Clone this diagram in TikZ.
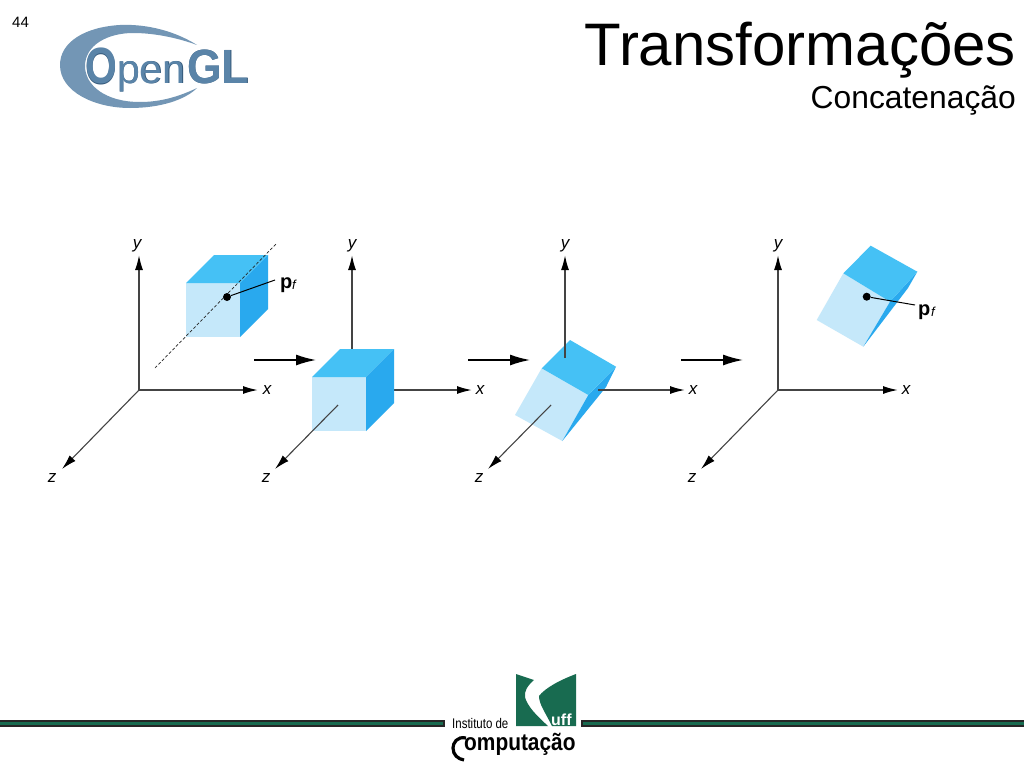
\documentclass[tikz,border=0pt]{standalone}
\usepackage{fontspec}
\setmainfont{Liberation Sans}
\definecolor{cfront}{HTML}{C5E8FA}
\definecolor{ctop}{HTML}{45C1F5}
\definecolor{cright}{HTML}{29A9EE}
\definecolor{uffgreen}{HTML}{186B50}
\definecolor{glblue}{HTML}{5A84A8}
\definecolor{gldark}{HTML}{34597A}
\definecolor{axisgray}{HTML}{444444}
\usetikzlibrary{arrows.meta}
\tikzset{
 axisline/.style={draw=axisgray,line width=1.6pt,-{Latex[length=15pt,width=8pt,black]}},
 zaxis/.style={draw=axisgray,line width=1.1pt,-{Latex[length=15pt,width=8pt,black]}},
 bigarrow/.style={draw=black,line width=1.5pt,-{Latex[length=20pt,width=11pt,black]}},
 axislabel/.style={font=\itshape\fontsize{17}{17}\selectfont,inner sep=0pt},
 pflabel/.style={font=\bfseries\fontsize{20}{20}\selectfont,inner sep=0pt},
 subf/.style={font=\itshape\fontsize{13}{13}\selectfont,inner sep=0pt},
 dotnode/.style={circle,fill=black,inner sep=0pt,minimum size=8pt},
 titletext/.style={inner sep=0pt,anchor=base east},
 glshadow/.style={inner sep=0pt,anchor=base west,text=gldark},
 gltext/.style={inner sep=0pt,anchor=base west,text=glblue},
}
\begin{document}
\begin{tikzpicture}[x=1pt,y=-1pt]
\useasboundingbox[fill=white] (0,0) rectangle (1024,768);
% header
\node[inner sep=0pt,anchor=base west,font=\fontsize{15}{15}\selectfont] (pagenum) at (12,28) {44};
\node[titletext,font=\fontsize{60}{60}\selectfont] (title) at (1016,65) {Transformações};
\node[titletext,font=\fontsize{31.8}{32}\selectfont] (subtitle) at (1016,108) {Concatenação};
% OpenGL logo
\fill[glblue!85!white] (197,45) .. controls (170,28) and (140,24) .. (120,25)
  .. controls (85,27) and (60,42) .. (60,65)
  .. controls (60,92) and (95,108) .. (130,108)
  .. controls (160,108) and (185,100) .. (197,88)
  .. controls (178,97) and (160,102) .. (140,102)
  .. controls (105,102) and (85,85) .. (85,66)
  .. controls (85,45) and (108,33) .. (133,33)
  .. controls (155,33) and (178,38) .. (197,45) -- cycle;
\node[glshadow,font=\bfseries\fontsize{51}{51}\selectfont] (oglshadow) at (85.6,84) {\scalebox{.8}[1]{O}};
\node[gltext,font=\bfseries\fontsize{51}{51}\selectfont] (oglo) at (85,83) {\scalebox{.8}[1]{O}};
\node[glshadow,font=\fontsize{41}{41}\selectfont] (oglpb) at (117.6,83.6) {pen};
\node[gltext,font=\fontsize{41}{41}\selectfont] (oglp) at (117,83) {pen};
\node[glshadow,font=\bfseries\fontsize{48}{48}\selectfont] (oglgb) at (187.6,83.6) {\scalebox{.93}[1]{GL}};
\node[gltext,font=\bfseries\fontsize{48}{48}\selectfont] (oglgl) at (187,83) {\scalebox{.93}[1]{GL}};
% Axes 1
\coordinate (o1) at (139,390);
\coordinate (y1) at (139,255);
\coordinate (x1) at (258,390);
\coordinate (z1) at (62,469);
\draw[axisline] (o1) -- (y1);
\draw[axisline] (o1) -- (x1);
\draw[zaxis] (o1) -- (z1);
\node[axislabel] (ly1) at (137,246) {y};
\node[axislabel] (lx1) at (267,390) {x};
\node[axislabel] (lz1) at (52,478) {z};
% Cube 1
\fill[cfront] (186,283) -- (240,283) -- (240,337) -- (186,337) -- cycle;
\fill[ctop] (186,283) -- (214,255) -- (268,255) -- (240,283) -- cycle;
\fill[cright] (240,283) -- (268,255) -- (268,309) -- (240,337) -- cycle;
\coordinate (d1a) at (155,368);
\coordinate (d1b) at (277,243);
\draw[line width=.7pt,dash pattern=on 3pt off 2pt,draw=black!85] (d1a) -- (d1b);
\node[dotnode] (p1) at (227,297) {};
\coordinate (l1) at (275,280);
\draw[line width=1pt] (p1) -- (l1);
\node[pflabel,anchor=base west] (pf1) at (280,288) {p};
\node[subf,anchor=base west] (sf1) at (292,289) {f};
% Axes 2
\coordinate (o2) at (352,390);
\coordinate (y2) at (352,255);
\coordinate (x2) at (472,390);
\coordinate (z2) at (275,469);
\draw[axisline] (o2) -- (y2);
\draw[axisline] (o2) -- (x2);
\node[axislabel] (ly2) at (352,246) {y};
\node[axislabel] (lx2) at (480,390) {x};
\node[axislabel] (lz2) at (266,478) {z};
% Cube 2
\fill[cfront] (312,377) -- (366,377) -- (366,431) -- (312,431) -- cycle;
\fill[ctop] (312,377) -- (340,349) -- (394,349) -- (366,377) -- cycle;
\fill[cright] (366,377) -- (394,349) -- (394,403) -- (366,431) -- cycle;
\coordinate (zs2) at (338,405);
\draw[zaxis] (zs2) -- (z2);
% Axes 3
\coordinate (o3) at (565,390);
\coordinate (y3) at (565,255);
\coordinate (x3) at (685,390);
\coordinate (z3) at (488,469);
\coordinate (ys3) at (565,358);
\coordinate (xs3) at (598,390);
\coordinate (zs3) at (551,405);
\node[axislabel] (ly3) at (565,246) {y};
\node[axislabel] (lx3) at (693,390) {x};
\node[axislabel] (lz3) at (479,478) {z};
% Cube 3
\fill[cfront] (541.7,368.3) -- (588.3,395) -- (562.3,441) -- (515,415) -- cycle;
\fill[cright] (588.3,395) -- (616,366.7) -- (606,387) -- (562.3,441) -- cycle;
\fill[ctop] (541.7,368.3) -- (570,340) -- (616,366.7) -- (588.3,395) -- cycle;
\draw[axisline] (ys3) -- (y3);
\draw[axisline] (xs3) -- (x3);
\draw[zaxis] (zs3) -- (z3);
% Axes 4
\coordinate (o4) at (778,390);
\coordinate (y4) at (778,255);
\coordinate (x4) at (898,390);
\coordinate (z4) at (701,469);
\draw[axisline] (o4) -- (y4);
\draw[axisline] (o4) -- (x4);
\draw[zaxis] (o4) -- (z4);
\node[axislabel] (ly4) at (778,246) {y};
\node[axislabel] (lx4) at (906,390) {x};
\node[axislabel] (lz4) at (692,478) {z};
% Cube 4
\fill[cfront] (843.3,273.3) -- (890,301.7) -- (863.3,346.7) -- (816.7,320) -- cycle;
\fill[cright] (890,301.7) -- (917.3,271.7) -- (908,288) -- (863.3,346.7) -- cycle;
\fill[ctop] (843.3,273.3) -- (870.7,245.7) -- (917.3,271.7) -- (890,301.7) -- cycle;
\node[dotnode] (p4) at (866.7,296.7) {};
\coordinate (l4) at (915,305);
\draw[line width=1pt] (p4) -- (l4);
\node[pflabel,anchor=base west] (pf4) at (918,315) {p};
\node[subf,anchor=base west] (sf4) at (931,316) {f};
% Big arrows
\coordinate (a1) at (254,360); \coordinate (a2) at (316,360);
\coordinate (b1) at (468,360); \coordinate (b2) at (530,360);
\coordinate (c1) at (681,360); \coordinate (c2) at (743,360);
\draw[bigarrow] (a1) -- (a2);
\draw[bigarrow] (b1) -- (b2);
\draw[bigarrow] (c1) -- (c2);
% Footer bars
\fill[black!85] (0,720) rectangle (445,727);
\fill[uffgreen] (0,722) rectangle (443,725);
\fill[black!85] (581,720) rectangle (1024,727);
\fill[uffgreen] (583,722) rectangle (1024,725);
% UFF emblem
\fill[uffgreen] (516,674) -- (534,680) .. controls (527,686) and (524,692) .. (525,697)
  .. controls (527,706) and (537,716) .. (548,726) -- (516,726) -- cycle;
\fill[uffgreen] (576,674) .. controls (560,680) and (545,688) .. (539,696)
  .. controls (539,704) and (545,712) .. (552,726) -- (576,726) -- cycle;
\node[inner sep=0pt,anchor=base west,text=white,font=\bfseries\fontsize{16}{16}\selectfont] (uff) at (551,725) {uff};
\node[inner sep=0pt,anchor=base west,font=\fontsize{14}{14}\selectfont] (inst) at (452,728) {\scalebox{.82}[1]{Instituto de}};
\draw[line width=3.2pt] (466,738) .. controls (457,736) and (453,743) .. (453,748) .. controls (453,755) and (458,759) .. (464,760);
\node[inner sep=0pt,anchor=base west,font=\bfseries\fontsize{24}{24}\selectfont] (comp) at (464,750) {\scalebox{.87}[1]{omputação}};
\end{tikzpicture}
\end{document}
